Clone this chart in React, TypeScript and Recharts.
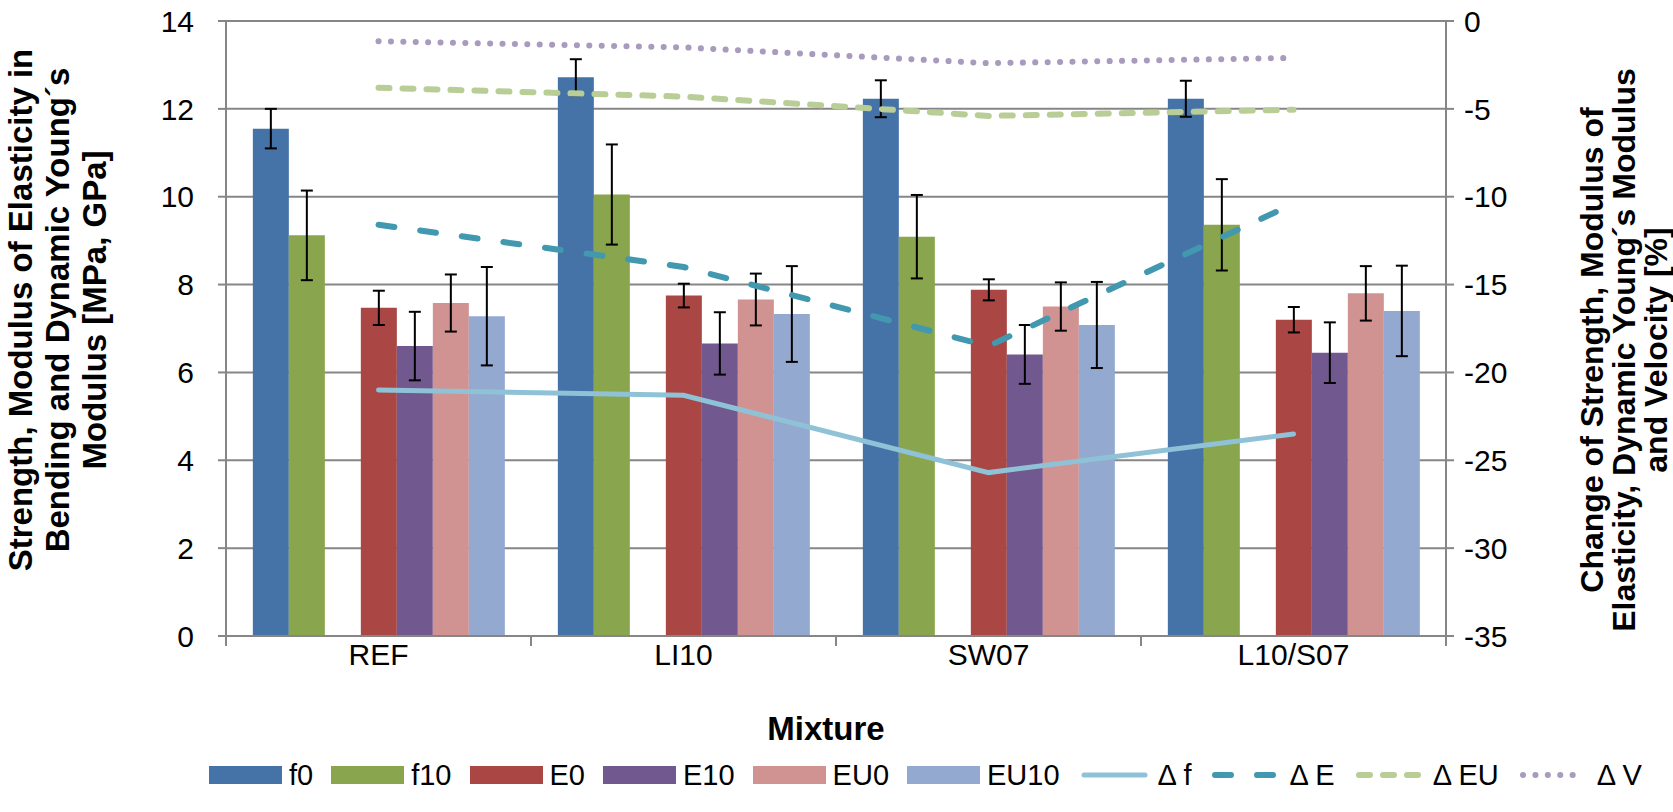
import React from 'react';
import {
  ComposedChart,
  Bar,
  Line,
  XAxis,
  YAxis,
  CartesianGrid,
  Legend,
  ErrorBar,
  Label,
} from 'recharts';

// categories
const mixtures = ['REF', 'LI10', 'SW07', 'L10/S07'];

// bar series (left axis) with +/- error
const f0 = [11.55, 12.72, 12.23, 12.23];
const f0Err = [0.45, 0.41, 0.42, 0.41];
const f10 = [9.12, 10.05, 9.09, 9.36];
const f10Err = [1.02, 1.14, 0.95, 1.04];
const e0 = [7.47, 7.75, 7.88, 7.2];
const e0Err = [0.39, 0.27, 0.24, 0.29];
const e10 = [6.6, 6.66, 6.41, 6.45];
const e10Err = [0.78, 0.71, 0.67, 0.69];
const eu0 = [7.58, 7.66, 7.5, 7.8];
const eu0Err = [0.65, 0.59, 0.55, 0.62];
const eu10 = [7.28, 7.33, 7.08, 7.4];
const eu10Err = [1.12, 1.09, 0.98, 1.03];

// change in % (right axis)
const deltaF = [-21.0, -21.3, -25.7, -23.5];
const deltaE = [-11.6, -14.0, -18.5, -10.4];
const deltaEU = [-3.8, -4.3, -5.4, -5.05];
const deltaV = [-1.15, -1.5, -2.4, -2.1];

const leftTicks = [0, 2, 4, 6, 8, 10, 12, 14];
const rightTicks = [-35, -30, -25, -20, -15, -10, -5, 0];

const data = mixtures.map((name, i) => ({
  name,
  f0: f0[i],
  f0Err: f0Err[i],
  f10: f10[i],
  f10Err: f10Err[i],
  E0: e0[i],
  E0Err: e0Err[i],
  E10: e10[i],
  E10Err: e10Err[i],
  EU0: eu0[i],
  EU0Err: eu0Err[i],
  EU10: eu10[i],
  EU10Err: eu10Err[i],
  dF: deltaF[i],
  dE: deltaE[i],
  dEU: deltaEU[i],
  dV: deltaV[i],
}));

const FONT = '"Liberation Sans", Arial, sans-serif';
const axisGray = '#868686';
const plotLeft = 226;
const plotRight = 1446;
const halfBand = (plotRight - plotLeft) / mixtures.length / 2;

const barSeries = [
  { key: 'f0', name: 'f0', color: '#4572A7' },
  { key: 'f10', name: 'f10', color: '#89A54E' },
  { key: 'E0', name: 'E0', color: '#AA4643' },
  { key: 'E10', name: 'E10', color: '#71588F' },
  { key: 'EU0', name: 'EU0', color: '#D19392' },
  { key: 'EU10', name: 'EU10', color: '#93A9CF' },
];

const lineSeries = [
  { key: 'dF', name: '\u0394 f', color: '#8FC2D7', width: 5, dash: undefined as string | undefined },
  { key: 'dE', name: '\u0394 E', color: '#4198AF', width: 6, dash: '16 26' },
  { key: 'dEU', name: '\u0394 EU', color: '#B9CD96', width: 6, dash: '11 13' },
  { key: 'dV', name: '\u0394 V', color: '#A99BBD', width: 6, dash: '0.1 12.3' },
];

function MixtureTick(props: any) {
  const { x, y, payload, index } = props;
  return (
    <g>
      <line x1={x - halfBand} x2={x - halfBand} y1={y} y2={y + 10} stroke={axisGray} strokeWidth={2} />
      {index === mixtures.length - 1 && (
        <line x1={x + halfBand} x2={x + halfBand} y1={y} y2={y + 10} stroke={axisGray} strokeWidth={2} />
      )}
      <text x={x} y={y + 18} textAnchor="middle" dominantBaseline="central" fontSize={30} fontFamily={FONT} fill="#000">
        {payload.value}
      </text>
    </g>
  );
}

function RotatedTitle({
  cx,
  cy,
  lines,
  gap,
  size,
}: {
  cx: number;
  cy: number;
  lines: string[];
  gap: number;
  size: number;
}) {
  const first = -((lines.length - 1) * gap) / 2;
  return (
    <text
      transform={`translate(${cx},${cy}) rotate(-90)`}
      textAnchor="middle"
      dominantBaseline="central"
      fontSize={size}
      fontWeight="bold"
      fontFamily={FONT}
      fill="#000"
    >
      {lines.map((l, i) => (
        <tspan key={i} x={0} y={first + i * gap}>
          {l}
        </tspan>
      ))}
    </text>
  );
}

function renderLegend() {
  return (
    <div
      style={{
        display: 'flex',
        alignItems: 'center',
        height: 50,
        paddingLeft: 209,
        fontFamily: FONT,
        fontSize: 29,
        color: '#000',
        whiteSpace: 'nowrap',
      }}
    >
      {barSeries.map((s) => (
        <div key={s.key} style={{ display: 'flex', alignItems: 'center', marginRight: 18 }}>
          <div style={{ width: 73, height: 18, background: s.color, marginRight: 7 }} />
          <span>{s.name}</span>
        </div>
      ))}
      {lineSeries.map((s) => (
        <div key={s.key} style={{ display: 'flex', alignItems: 'center', marginRight: 18 }}>
          <svg width={73} height={18} style={{ marginRight: 7 }}>
            <line
              x1={6}
              x2={67}
              y1={9}
              y2={9}
              stroke={s.color}
              strokeWidth={s.width}
              strokeDasharray={s.dash}
              strokeLinecap="round"
            />
          </svg>
          <span>{s.name}</span>
        </div>
      ))}
    </div>
  );
}

export default function App() {
  return (
    <div style={{ position: 'absolute', left: 0, top: 0, background: '#fff' }}>
      <ComposedChart
        width={1673}
        height={812}
        data={data}
        margin={{ top: 21, right: 0, bottom: 12, left: 0 }}
        barCategoryGap="8.8%"
        barGap={0}
      >
        <CartesianGrid yAxisId="left" vertical={false} stroke={axisGray} strokeWidth={2} />
        <XAxis
          dataKey="name"
          height={114}
          tickLine={false}
          tickSize={0}
          tickMargin={0}
          axisLine={{ stroke: axisGray, strokeWidth: 2 }}
          tick={<MixtureTick />}
          interval={0}
        >
          <Label
            content={() => (
              <text
                x={826}
                y={728}
                textAnchor="middle"
                dominantBaseline="central"
                fontSize={33}
                fontWeight="bold"
                fontFamily={FONT}
                fill="#000"
              >
                Mixture
              </text>
            )}
          />
        </XAxis>
        <YAxis
          yAxisId="left"
          width={226}
          domain={[0, 14]}
          ticks={leftTicks}
          interval={0}
          tickSize={8}
          tickMargin={24}
          axisLine={{ stroke: axisGray, strokeWidth: 2 }}
          tickLine={{ stroke: axisGray, strokeWidth: 2 }}
          tick={{ fontSize: 30, fontFamily: FONT, fill: '#000' }}
        >
          <Label
            content={() => (
              <RotatedTitle
                cx={57}
                cy={310}
                gap={37}
                size={33}
                lines={['Strength, Modulus of Elasticity in', 'Bending and Dynamic Young\u00b4s', 'Modulus [MPa, GPa]']}
              />
            )}
          />
        </YAxis>
        <YAxis
          yAxisId="right"
          orientation="right"
          width={227}
          domain={[-35, 0]}
          ticks={rightTicks}
          interval={0}
          tickSize={8}
          tickMargin={10}
          axisLine={{ stroke: axisGray, strokeWidth: 2 }}
          tickLine={{ stroke: axisGray, strokeWidth: 2 }}
          tick={{ fontSize: 30, fontFamily: FONT, fill: '#000' }}
        >
          <Label
            content={() => (
              <RotatedTitle
                cx={1624}
                cy={350}
                gap={32}
                size={32}
                lines={['Change of Strength, Modulus of', 'Elasticity, Dynamic Young\u00b4s Modulus', 'and Velocity [%]']}
              />
            )}
          />
        </YAxis>

        {barSeries.slice(0, 2).map((s) => (
          <Bar key={s.key} yAxisId="left" dataKey={s.key} name={s.name} fill={s.color} isAnimationActive={false}>
            <ErrorBar dataKey={`${s.key}Err`} width={6} strokeWidth={2} stroke="#000" direction="y" />
          </Bar>
        ))}
        {/* empty slot between the strength and modulus groups */}
        <Bar yAxisId="left" dataKey="gap" legendType="none" fill="none" isAnimationActive={false} />
        {barSeries.slice(2).map((s) => (
          <Bar key={s.key} yAxisId="left" dataKey={s.key} name={s.name} fill={s.color} isAnimationActive={false}>
            <ErrorBar dataKey={`${s.key}Err`} width={6} strokeWidth={2} stroke="#000" direction="y" />
          </Bar>
        ))}

        {lineSeries.map((s) => (
          <Line
            key={s.key}
            yAxisId="right"
            type="linear"
            dataKey={s.key}
            name={s.name}
            stroke={s.color}
            strokeWidth={s.width}
            strokeDasharray={s.dash}
            strokeLinecap="round"
            dot={false}
            activeDot={false}
            isAnimationActive={false}
          />
        ))}

        <Legend verticalAlign="bottom" height={50} content={renderLegend} />
      </ComposedChart>
    </div>
  );
}
